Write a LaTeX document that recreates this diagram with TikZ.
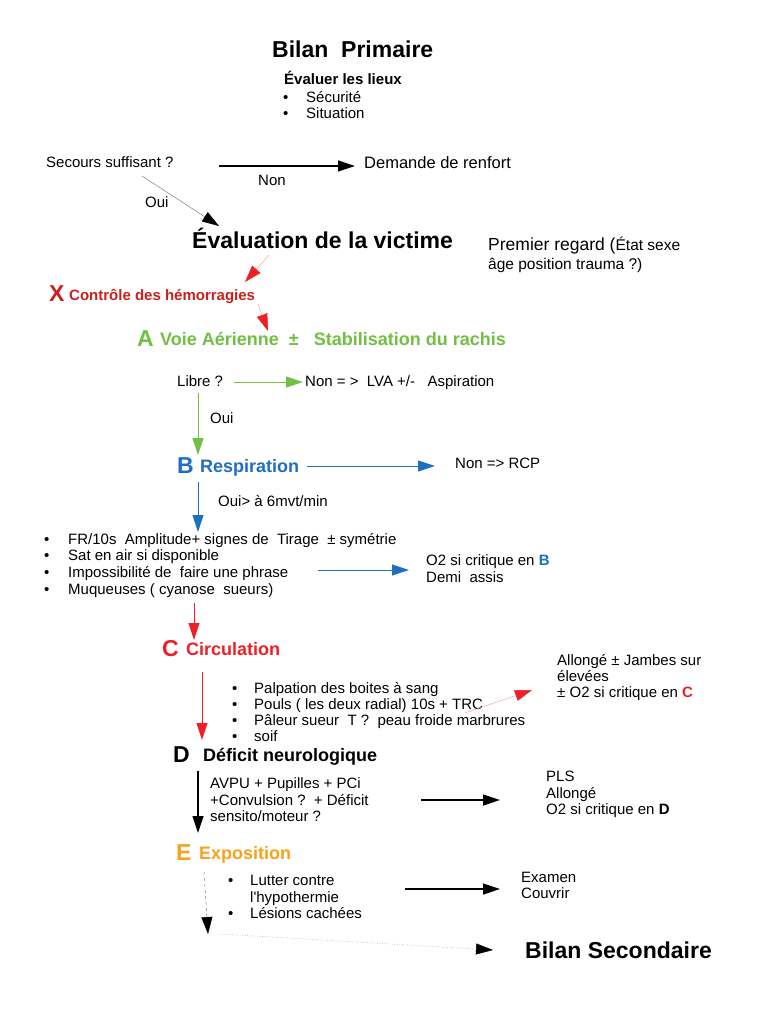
\documentclass[tikz,border=0pt]{standalone}
\usepackage{fontspec}
\setmainfont{Liberation Sans}
\usetikzlibrary{arrows.meta}
\definecolor{xred}{HTML}{C9211E}
\definecolor{cred}{HTML}{EE2026}
\definecolor{pinkl}{HTML}{F4A0A8}
\definecolor{agreen}{HTML}{72BF44}
\definecolor{bblue}{HTML}{1F6FC0}
\definecolor{eorange}{HTML}{F7A21B}
\tikzset{
  txt/.style={anchor=base west, inner sep=0pt, font=\fontsize{15}{17}\selectfont},
  txtl/.style={anchor=base west, inner sep=0pt, font=\fontsize{16.5}{19}\selectfont},
  hd/.style={anchor=base west, inner sep=0pt, font=\fontsize{18}{20}\selectfont\bfseries},
  hdx/.style={anchor=base west, inner sep=0pt, font=\fontsize{15}{17}\selectfont\bfseries},
  big/.style={anchor=base west, inner sep=0pt, font=\fontsize{23}{26}\selectfont\bfseries},
  tip/.style={-{Triangle[length=17pt,width=11pt]}},
  blk/.style={tip, line width=1.2pt, black},
  grn/.style={tip, line width=1pt, agreen},
  blu/.style={tip, line width=1pt, bblue},
  rd/.style={tip, line width=1pt, cred},
  pnk/.style={-{Triangle[length=17pt,width=11pt,color=cred]}, line width=0.5pt, pinkl},
  gry/.style={-{Triangle[length=17pt,width=11pt,color=black]}, line width=0.5pt, gray},
}
\begin{document}
\begin{tikzpicture}[x=1pt,y=-1pt]
\useasboundingbox[fill=white] (0,0) rectangle (768,1024);

% Header
\node[big] (titre) at (272,58) {Bilan\ \ Primaire};
\node[hdx] (lieux) at (284,85) {Évaluer les lieux};
\node[txt] (b1) at (283,103) {•};
\node[txt] (secu) at (306,103) {Sécurité};
\node[txt] (b2) at (283,119) {•};
\node[txt] (situ) at (306,119) {Situation};

\node[txt] (secours) at (46,168) {Secours suffisant ?};
\node[txtl] (renfort) at (364,169) {Demande de renfort};
\node[txt] (non1) at (258,186) {Non};
\node[txt] (oui1) at (145,208) {Oui};
\coordinate (s1) at (219,166); \coordinate (e1) at (355,166);
\draw[blk] (s1) -- (e1);
\coordinate (s2) at (142,176); \coordinate (e2) at (219,226);
\draw[gry] (s2) -- (e2);

\node[big] (evalv) at (192,248) {Évaluation de la victime};
\node[anchor=base west, inner sep=0pt, font=\fontsize{17.5}{20}\selectfont] (premier) at (488,251) {Premier regard (\fontsize{15.5}{18}\selectfont État sexe};
\node[anchor=base west, inner sep=0pt, font=\fontsize{15.5}{18}\selectfont] (premier2) at (488,269) {âge position trauma ?)};

% X
\coordinate (s3) at (269,255); \coordinate (e3) at (245,282);
\draw[pnk] (s3) -- (e3);
\node[big, text=xred] (xl) at (49,301) {X};
\node[hdx, text=xred] (xt) at (69,300) {Contrôle des hémorragies};
\coordinate (s4) at (258,304); \coordinate (e4) at (268,331);
\draw[pnk] (s4) -- (e4);

% A
\node[big, text=agreen] (al) at (137,346) {A};
\node[hd, text=agreen] (at) at (160,345) {Voie Aérienne\ \ ±\ \ \ Stabilisation du rachis};
\node[txt] (libre) at (177,386) {Libre ?};
\node[txt] (lva) at (305,386) {Non = >\ \ LVA +/-\ \ \ Aspiration};
\coordinate (s5) at (234,382); \coordinate (e5) at (303,382);
\draw[grn] (s5) -- (e5);
\coordinate (s6) at (198,393); \coordinate (e6) at (198,455);
\draw[grn] (s6) -- (e6);
\node[txt] (oui2) at (210,423) {Oui};

% B
\node[big, text=bblue] (bl) at (177,473) {B};
\node[hd, text=bblue] (bt) at (200,472) {Respiration};
\coordinate (s7) at (307,466); \coordinate (e7) at (435,466);
\draw[blu] (s7) -- (e7);
\node[txt] (rcp) at (455,468) {Non => RCP};
\coordinate (s8) at (198,482); \coordinate (e8) at (198,532);
\draw[blu] (s8) -- (e8);
\node[txt] (oui3) at (218,506) {Oui> à 6mvt/min};

\node[txt] (bb1) at (44,544) {•};
\node[txt] (bt1) at (68,544) {FR/10s\ \ Amplitude+ signes de\ \ Tirage\ \ ± symétrie};
\node[txt] (bb2) at (44,560) {•};
\node[txt] (bt2) at (68,560) {Sat en air si disponible};
\node[txt] (bb3) at (44,577) {•};
\node[txt] (bt3) at (68,577) {Impossibilité de\ \ faire une phrase};
\node[txt] (bb4) at (44,594) {•};
\node[txt] (bt4) at (68,594) {Muqueuses ( cyanose\ \ sueurs)};
\coordinate (s9) at (318,570); \coordinate (e9) at (409,570);
\draw[blu] (s9) -- (e9);
\node[txt] (o2b) at (426,565) {O2 si critique en \textbf{\textcolor{bblue}{B}}};
\node[txt] (demi) at (426,582) {Demi\ \ assis};

% C
\coordinate (s10) at (194,603); \coordinate (e10) at (194,640);
\draw[rd] (s10) -- (e10);
\node[big, text=cred] (cl) at (162,656) {C};
\node[hd, text=cred] (ct) at (186,655) {Circulation};
\coordinate (s11) at (202,672); \coordinate (e11) at (202,740);
\draw[rd] (s11) -- (e11);
\node[txt] (cb1) at (232,693) {•};
\node[txt] (ct1) at (254,693) {Palpation des boites à sang};
\node[txt] (cb2) at (232,709) {•};
\node[txt] (ct2) at (254,709) {Pouls ( les deux radial) 10s + TRC};
\node[txt] (cb3) at (232,725) {•};
\node[txt] (ct3) at (254,725) {Pâleur sueur\ \ T ?\ \ peau froide marbrures};
\node[txt] (cb4) at (232,741) {•};
\node[txt] (ct4) at (254,741) {soif};
\coordinate (s12) at (465,713); \coordinate (e12) at (532,690);
\draw[pnk] (s12) -- (e12);
\node[txt] (al1) at (557,665) {Allongé ± Jambes sur};
\node[txt] (al2) at (557,681) {élevées};
\node[txt] (al3) at (557,697) {± O2 si critique en \textbf{\textcolor{cred}{C}}};

% D
\node[big] (dl) at (173,762) {D};
\node[hd] (dt) at (203,761) {Déficit neurologique};
\coordinate (s13) at (198,771); \coordinate (e13) at (198,833);
\draw[blk] (s13) -- (e13);
\node[txt] (d1) at (210,788) {AVPU + Pupilles + PCi};
\node[txt] (d2) at (210,805) {+Convulsion ?\ \ + Déficit};
\node[txt] (d3) at (210,821) {sensito/moteur ?};
\coordinate (s14) at (421,800); \coordinate (e14) at (500,800);
\draw[blk] (s14) -- (e14);
\node[txt] (pls) at (546,781) {PLS};
\node[txt] (allo) at (546,798) {Allongé};
\node[txt] (o2d) at (546,814) {O2 si critique en \textbf{D}};

% E
\node[big, text=eorange] (el) at (176,860) {E};
\node[hd, text=eorange] (et) at (199,859) {Exposition};
\coordinate (s15) at (204,872); \coordinate (e15) at (208,934);
\draw[gry, dashed] (s15) -- (e15);
\node[txt] (eb1) at (228,885) {•};
\node[txt] (et1) at (250,885) {Lutter contre};
\node[txt] (et2) at (250,902) {l\textquotesingle hypothermie};
\node[txt] (eb2) at (228,918) {•};
\node[txt] (et3) at (250,918) {Lésions cachées};
\coordinate (s16) at (405,889); \coordinate (e16) at (500,889);
\draw[blk] (s16) -- (e16);
\node[txt] (exa) at (521,882) {Examen};
\node[txt] (couv) at (521,898) {Couvrir};

\coordinate (s17) at (220,934); \coordinate (e17) at (493,950);
\draw[gry, dotted] (s17) -- (e17);
\node[big] (secondaire) at (525,958) {Bilan Secondaire};
\end{tikzpicture}
\end{document}
